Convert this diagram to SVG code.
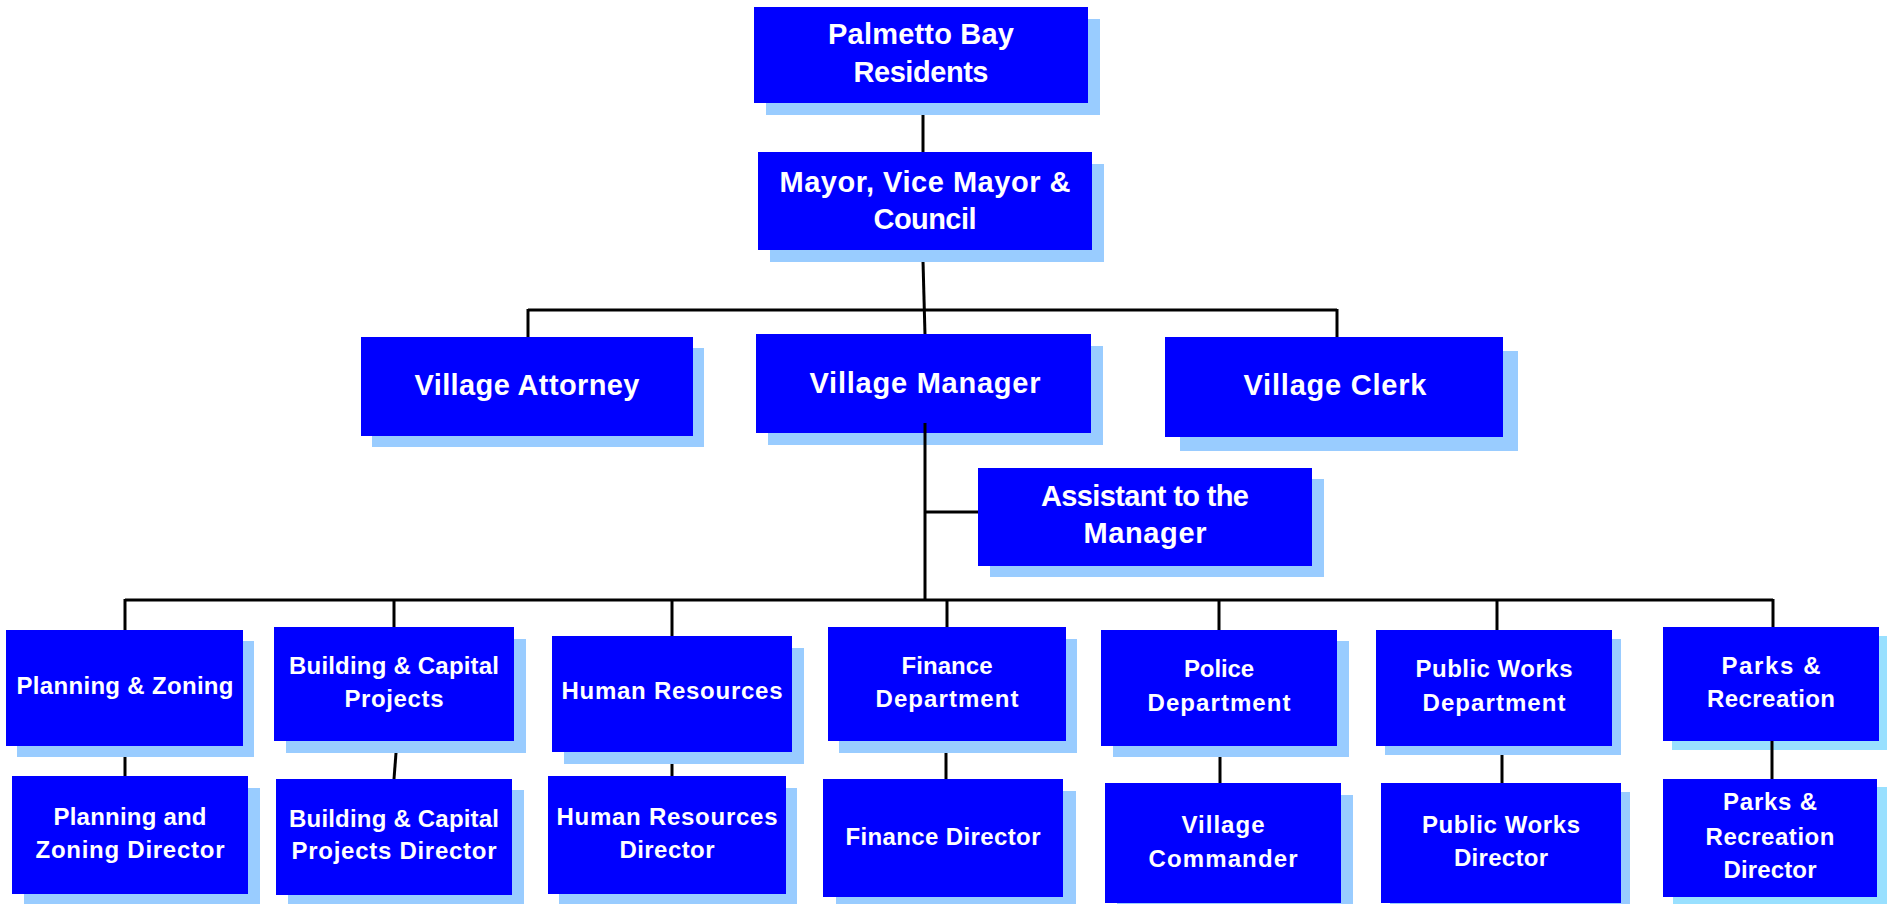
<svg xmlns="http://www.w3.org/2000/svg" width="1887" height="904" viewBox="0 0 1887 904">
<style>
.bg{fill:#ffffff}
.box{fill:#0000ff}
.sh{fill:#99ccff}
.sh2{fill:#99e0ff}
.t{font-family:"Liberation Sans",Arial,sans-serif;font-weight:bold;fill:#ffffff;text-anchor:middle}
.big{font-size:29px}
.sm{font-size:24px}
.ln{stroke:#000000;stroke-width:3;fill:none}
</style>
<rect class="bg" x="0" y="0" width="1887" height="904"/>

<g id="connectors">
<line class="ln" x1="923" y1="115" x2="923" y2="152"/>
<line class="ln" x1="923" y1="261" x2="925" y2="335"/>
<line class="ln" x1="528" y1="310" x2="1337" y2="310"/>
<line class="ln" x1="528" y1="309" x2="528" y2="337"/>
<line class="ln" x1="1337" y1="309" x2="1337" y2="337"/>
<line class="ln" x1="925" y1="446" x2="925" y2="600"/>
<line class="ln" x1="925" y1="512" x2="978" y2="512"/>
<line class="ln" x1="125" y1="600" x2="1773" y2="600" stroke-width="3.5"/>
<line class="ln" x1="125" y1="599" x2="125" y2="630"/>
<line class="ln" x1="394" y1="599" x2="394" y2="627"/>
<line class="ln" x1="672" y1="599" x2="672" y2="636"/>
<line class="ln" x1="947" y1="599" x2="947" y2="627"/>
<line class="ln" x1="1219" y1="599" x2="1219" y2="630"/>
<line class="ln" x1="1497" y1="599" x2="1497" y2="630"/>
<line class="ln" x1="1773" y1="599" x2="1773" y2="627"/>
<line class="ln" x1="125" y1="757" x2="125" y2="776"/>
<line class="ln" x1="396" y1="753" x2="394" y2="779"/>
<line class="ln" x1="672" y1="764" x2="672" y2="776"/>
<line class="ln" x1="946" y1="753" x2="946" y2="779"/>
<line class="ln" x1="1220" y1="757" x2="1220" y2="783"/>
<line class="ln" x1="1502" y1="755" x2="1502" y2="783"/>
</g>

<g id="palmetto">
<rect class="sh" x="766" y="19" width="334" height="96"/>
<rect class="box" x="754" y="7" width="334" height="96"/>
<text class="t big" x="921" y="44" textLength="186" lengthAdjust="spacing">Palmetto Bay</text>
<text class="t big" x="921" y="82" textLength="135" lengthAdjust="spacing">Residents</text>
</g>

<g id="mayor">
<rect class="sh" x="770" y="164" width="334" height="98"/>
<rect class="box" x="758" y="152" width="334" height="98"/>
<text class="t big" x="925" y="192" textLength="291" lengthAdjust="spacing">Mayor, Vice Mayor &amp;</text>
<text class="t big" x="925" y="229" textLength="103" lengthAdjust="spacing">Council</text>
</g>

<g id="attorney">
<rect class="sh" x="372" y="348" width="332" height="99"/>
<rect class="box" x="361" y="337" width="332" height="99"/>
<text class="t big" x="527" y="395" textLength="225" lengthAdjust="spacing">Village Attorney</text>
</g>

<g id="manager">
<rect class="sh" x="768" y="346" width="335" height="99"/>
<rect class="box" x="756" y="334" width="335" height="99"/>
<text class="t big" x="925" y="393" textLength="231" lengthAdjust="spacing">Village Manager</text>
</g>

<g id="clerk">
<rect class="sh" x="1180" y="351" width="338" height="100"/>
<rect class="box" x="1165" y="337" width="338" height="100"/>
<text class="t big" x="1335" y="395" textLength="183" lengthAdjust="spacing">Village Clerk</text>
</g>

<g id="assistant">
<rect class="sh" x="990" y="479" width="334" height="98"/>
<rect class="box" x="978" y="468" width="334" height="98"/>
<text class="t big" x="1145" y="506" textLength="208" lengthAdjust="spacing">Assistant to the</text>
<text class="t big" x="1145" y="543" textLength="123" lengthAdjust="spacing">Manager</text>
</g>

<g id="planning">
<rect class="sh" x="17" y="641" width="237" height="116"/>
<rect class="box" x="6" y="630" width="237" height="116"/>
<text class="t sm" x="125" y="694" textLength="217" lengthAdjust="spacing">Planning &amp; Zoning</text>
</g>

<g id="building">
<rect class="sh" x="286" y="639" width="240" height="114"/>
<rect class="box" x="274" y="627" width="240" height="114"/>
<text class="t sm" x="394" y="674" textLength="210" lengthAdjust="spacing">Building &amp; Capital</text>
<text class="t sm" x="394" y="707" textLength="99" lengthAdjust="spacing">Projects</text>
</g>

<g id="hr">
<rect class="sh" x="564" y="648" width="240" height="116"/>
<rect class="box" x="552" y="636" width="240" height="116"/>
<text class="t sm" x="672" y="699" textLength="221" lengthAdjust="spacing">Human Resources</text>
</g>

<g id="finance">
<rect class="sh" x="839" y="639" width="238" height="114"/>
<rect class="box" x="828" y="627" width="238" height="114"/>
<text class="t sm" x="947" y="674" textLength="91" lengthAdjust="spacing">Finance</text>
<text class="t sm" x="947" y="707" textLength="143" lengthAdjust="spacing">Department</text>
</g>

<g id="police">
<rect class="sh" x="1113" y="641" width="236" height="116"/>
<rect class="box" x="1101" y="630" width="236" height="116"/>
<text class="t sm" x="1219" y="677" textLength="70" lengthAdjust="spacing">Police</text>
<text class="t sm" x="1219" y="711" textLength="143" lengthAdjust="spacing">Department</text>
</g>

<g id="publicworks">
<rect class="sh" x="1385" y="639" width="236" height="116"/>
<rect class="box" x="1376" y="630" width="236" height="116"/>
<text class="t sm" x="1494" y="677" textLength="157" lengthAdjust="spacing">Public Works</text>
<text class="t sm" x="1494" y="711" textLength="143" lengthAdjust="spacing">Department</text>
</g>

<g id="parks">
<rect class="sh2" x="1672" y="636" width="216" height="114"/>
<rect class="box" x="1663" y="627" width="216" height="114"/>
<text class="t sm" x="1771" y="674" textLength="99" lengthAdjust="spacing">Parks &amp;</text>
<text class="t sm" x="1771" y="707" textLength="128" lengthAdjust="spacing">Recreation</text>
</g>

<g id="planning-director">
<rect class="sh" x="24" y="788" width="236" height="118"/>
<rect class="box" x="12" y="776" width="236" height="118"/>
<text class="t sm" x="130" y="825" textLength="153" lengthAdjust="spacing">Planning and</text>
<text class="t sm" x="130" y="858" textLength="189" lengthAdjust="spacing">Zoning Director</text>
</g>

<g id="building-director">
<rect class="sh" x="288" y="790" width="236" height="116"/>
<rect class="box" x="276" y="779" width="236" height="116"/>
<text class="t sm" x="394" y="827" textLength="210" lengthAdjust="spacing">Building &amp; Capital</text>
<text class="t sm" x="394" y="859" textLength="205" lengthAdjust="spacing">Projects Director</text>
</g>

<g id="hr-director">
<rect class="sh" x="559" y="788" width="238" height="118"/>
<rect class="box" x="548" y="776" width="238" height="118"/>
<text class="t sm" x="667" y="825" textLength="221" lengthAdjust="spacing">Human Resources</text>
<text class="t sm" x="667" y="858" textLength="95" lengthAdjust="spacing">Director</text>
</g>

<g id="finance-director">
<rect class="sh" x="836" y="791" width="240" height="118"/>
<rect class="box" x="823" y="779" width="240" height="118"/>
<text class="t sm" x="943" y="845" textLength="195" lengthAdjust="spacing">Finance Director</text>
</g>

<g id="commander">
<rect class="sh" x="1117" y="795" width="236" height="120"/>
<rect class="box" x="1105" y="783" width="236" height="120"/>
<text class="t sm" x="1223" y="833" textLength="83" lengthAdjust="spacing">Village</text>
<text class="t sm" x="1223" y="867" textLength="149" lengthAdjust="spacing">Commander</text>
</g>

<g id="pw-director">
<rect class="sh" x="1390" y="792" width="240" height="120"/>
<rect class="box" x="1381" y="783" width="240" height="120"/>
<text class="t sm" x="1501" y="833" textLength="158" lengthAdjust="spacing">Public Works</text>
<text class="t sm" x="1501" y="866" textLength="94" lengthAdjust="spacing">Director</text>
</g>

<g id="parks-director">
<rect class="sh2" x="1673" y="787" width="214" height="118"/>
<rect class="box" x="1663" y="779" width="214" height="118"/>
<text class="t sm" x="1770" y="810" textLength="94" lengthAdjust="spacing">Parks &amp;</text>
<text class="t sm" x="1770" y="845" textLength="129" lengthAdjust="spacing">Recreation</text>
<text class="t sm" x="1770" y="878" textLength="93" lengthAdjust="spacing">Director</text>
</g>

<g id="overlay-connectors">
<line class="ln" x1="925" y1="423" x2="925" y2="446"/>
<line class="ln" x1="1772" y1="741" x2="1772" y2="779"/>
</g>
</svg>
